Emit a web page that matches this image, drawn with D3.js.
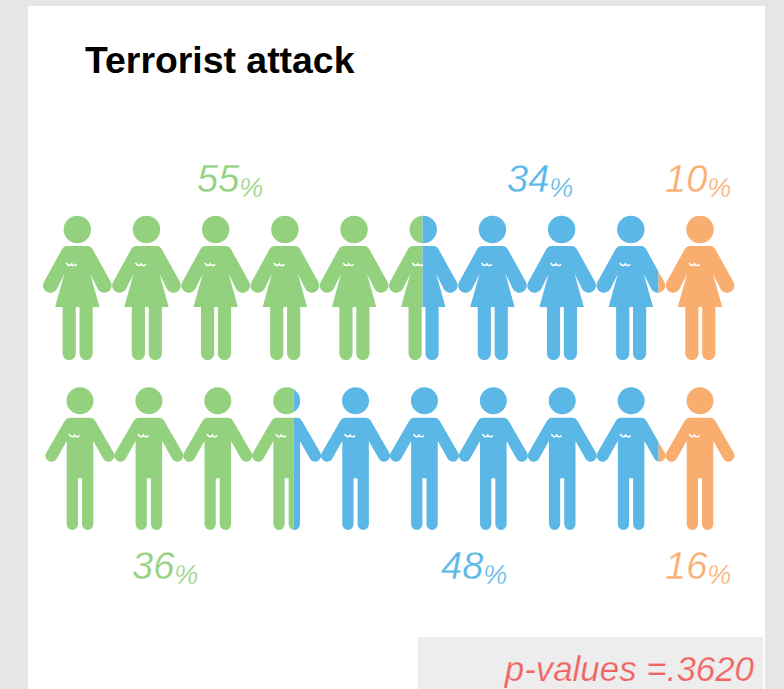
<!DOCTYPE html>
<html>
<head>
<meta charset="utf-8">
<script src="https://cdn.jsdelivr.net/npm/d3@7"></script>
<style>
  html, body { margin: 0; padding: 0; background: #e6e6e6; overflow: hidden; }
  svg { display: block; }
</style>
</head>
<body>
<svg id="chart" width="784" height="689"></svg>
<script>
// Poll shares per group, top row (women) and bottom row (men)
const groups = ["green", "blue", "orange"];
const womenShare = [55, 34, 10];
const menShare = [36, 48, 16];
// How many of the ten figures each group fills
const womenFigures = [5.49, 3.41, 1.1];
const menFigures = [3.6, 5.3, 1.1];
const groupColors = ["#93d17e", "#5ab7e6", "#f9ae6f"];
const figureIndex = d3.range(10);
const titleText = "Terrorist attack";
const noteText = "p-values =.3620";

const svg = d3.select("#chart");
const textFont = "Liberation Sans, Arial, sans-serif";

svg.append("rect").attr("x", 28).attr("y", 6).attr("width", 737).attr("height", 683).attr("fill", "#fff");
svg.append("rect").attr("x", 418).attr("y", 637).attr("width", 345).attr("height", 52).attr("fill", "#ededed");

svg.append("text").attr("x", 85).attr("y", 72.5)
  .attr("font-family", textFont).attr("font-weight", 700).attr("font-size", 37.4)
  .attr("fill", "#000").text(titleText);

// Silhouettes, drawn around the figure's vertical axis with y measured from the head centre
function woman(p) {
  p.moveTo(-10.5, 16.5);
  p.lineTo(10.5, 16.5);
  p.quadraticCurveTo(13.5, 16.5, 15.2, 19.5);
  p.lineTo(33.2, 52);
  p.arc(27, 56, 7.3, -0.52, 2.62);
  p.lineTo(13, 44.5);
  p.lineTo(22.2, 77.5);
  p.lineTo(15.4, 77.5);
  p.lineTo(15.4, 124);
  p.arc(8.8, 124, 6.6, 0, Math.PI);
  p.lineTo(2.2, 77.5);
  p.lineTo(-1.5, 77.5);
  p.lineTo(-1.5, 124);
  p.arc(-8.1, 124, 6.6, 0, Math.PI);
  p.lineTo(-14.7, 77.5);
  p.lineTo(-22.2, 77.5);
  p.lineTo(-13, 44.5);
  p.lineTo(-20.7, 60);
  p.arc(-27, 56, 7.3, 0.52, 3.66);
  p.lineTo(-15.2, 19.5);
  p.quadraticCurveTo(-13.5, 16.5, -10.5, 16.5);
  p.closePath();
  p.moveTo(13.7, 0);
  p.arc(0, 0, 13.7, 0, Math.PI * 2);
  p.closePath();
  return p;
}
function man(p) {
  p.moveTo(-10.5, 17);
  p.lineTo(10.5, 17);
  p.quadraticCurveTo(13.5, 17, 15.2, 20);
  p.lineTo(33.7, 52);
  p.arc(28.5, 55, 6, -0.52, 2.62);
  p.lineTo(13.3, 40.3);
  p.lineTo(13.3, 123.6);
  p.arc(7.65, 123.6, 5.65, 0, Math.PI);
  p.lineTo(2, 77.6);
  p.lineTo(-2, 77.6);
  p.lineTo(-2, 123.6);
  p.arc(-7.65, 123.6, 5.65, 0, Math.PI);
  p.lineTo(-13.3, 40.3);
  p.lineTo(-23.3, 58);
  p.arc(-28.5, 55, 6, 0.52, 3.66);
  p.lineTo(-15.2, 20);
  p.quadraticCurveTo(-13.5, 17, -10.5, 17);
  p.closePath();
  p.moveTo(13.5, 0);
  p.arc(0, 0, 13.5, 0, Math.PI * 2);
  p.closePath();
  return p;
}
const womanD = woman(d3.path()).toString();
const manD = man(d3.path()).toString();
// Small white tick on the chest of every figure
const chestD = "M-11,33.5 Q-9.5,36 -7.5,36 Q-6,35.8 -5.4,34.4 Q-4.2,36.4 -3,36 Q-1.5,36 -0.6,34.8";

const defs = svg.append("defs");

// Figure positions come from a point scale so fill boundaries can be given in figure units
function drawRow(id, figures, shapeD, centerFirst, centerLast, headY) {
  const x = d3.scalePoint().domain(figureIndex).range([centerFirst, centerLast]);
  const step = x.step();
  const unitX = d3.scaleLinear().domain([0, 10]).range([centerFirst - step / 2, centerLast + step / 2]);
  const ends = d3.cumsum(figures);
  const row = svg.append("g").attr("class", "row-" + id);
  groups.forEach((g, i) => {
    const from = i === 0 ? -1 : ends[i - 1];
    const to = i === groups.length - 1 ? 11 : ends[i];
    defs.append("clipPath").attr("id", `clip-${id}-${g}`)
      .append("rect")
      .attr("x", unitX(from)).attr("y", 0)
      .attr("width", unitX(to) - unitX(from)).attr("height", 689);
    row.append("g").attr("clip-path", `url(#clip-${id}-${g})`)
      .selectAll("path").data(figureIndex).join("path")
      .attr("transform", d => `translate(${x(d)},${headY})`)
      .attr("d", shapeD)
      .attr("fill", groupColors[i]);
  });
  row.selectAll("path.chest").data(figureIndex).join("path")
    .attr("class", "chest")
    .attr("transform", d => `translate(${x(d)},${headY})`)
    .attr("d", chestD)
    .attr("fill", "none").attr("stroke", "#fff").attr("stroke-width", 1.5);
}

drawRow("women", womenFigures, womanD, 77.3, 700, 229.5);
drawRow("men", menFigures, manD, 80, 700, 400.7);

// Percentage labels: number and a smaller, slightly lowered percent sign.
// A thin background-coloured outline gives the regular italic a lighter weight.
function drawLabels(values, xs, y) {
  const t = svg.append("g").selectAll("text").data(values).join("text")
    .attr("x", (d, i) => xs[i]).attr("y", y)
    .attr("font-family", textFont).attr("font-style", "italic")
    .attr("fill", (d, i) => groupColors[i])
    .attr("stroke", "#fff").attr("stroke-width", 0.3);
  t.append("tspan").attr("font-size", 38).text(d => d);
  t.append("tspan").attr("font-size", 27).attr("dy", 4.5).text("%");
}
drawLabels(womenShare, [197, 507, 665], 192);
drawLabels(menShare, [132, 441, 665], 579);

svg.append("text").attr("x", 754).attr("y", 681)
  .attr("text-anchor", "end")
  .attr("font-family", textFont).attr("font-style", "italic").attr("font-size", 34.9)
  .attr("stroke", "#ededed").attr("stroke-width", 0.25)
  .attr("fill", "#f06464").text(noteText);
</script>
</body>
</html>
